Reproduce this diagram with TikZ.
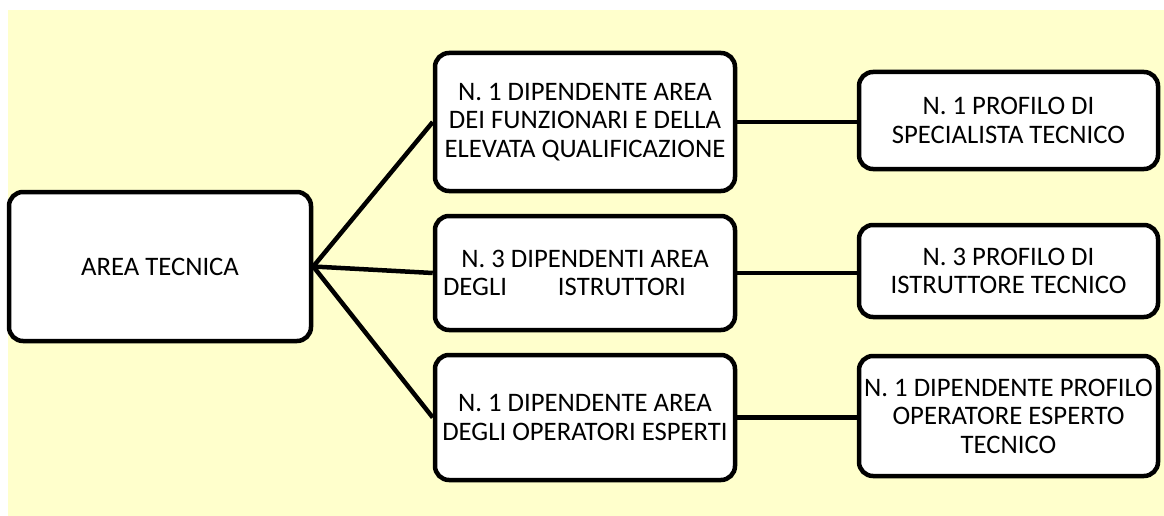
\documentclass[tikz,border=0pt]{standalone}
\usepackage{fontspec}
\setmainfont{Carlito}
\definecolor{sfondo}{RGB}{255,255,204}
\begin{document}
\begin{tikzpicture}[x=1pt, y=-1pt, line width=4.5pt,
    box/.style={draw=black, fill=white, rounded corners=14pt, align=center,
        inner sep=0pt, font=\fontsize{26.7}{28.5}\selectfont}]
                % Background
                \useasboundingbox (0, 0) rectangle (1164, 516);
                \fill[sfondo] (8, 10) rectangle (1164, 516);
                % Nodes
                \node[box, minimum width=302, minimum height=149] (area) at (160, 266.5) {AREA TECNICA};
                \node[box, minimum width=300, minimum height=138] (a1) at (585, 122) {N. 1 DIPENDENTE AREA\\DEI FUNZIONARI E DELLA\\ELEVATA QUALIFICAZIONE};
                \node[box, minimum width=300, minimum height=114] (a2) at (585, 273) {N. 3 DIPENDENTI AREA\\DEGLI\hspace{51pt}ISTRUTTORI\hspace*{41pt}};
                \node[box, minimum width=300, minimum height=125] (a3) at (585, 417.5) {N. 1 DIPENDENTE AREA\\DEGLI OPERATORI ESPERTI};
                \node[box, minimum width=299, minimum height=97] (b1) at (1008.5, 120.5) {N. 1 PROFILO DI\\SPECIALISTA TECNICO};
                \node[box, minimum width=299, minimum height=92] (b2) at (1008.5, 271) {N. 3 PROFILO DI\\ISTRUTTORE TECNICO};
                \node[box, minimum width=299, minimum height=120] (b3) at (1008.5, 416) {N. 1 DIPENDENTE PROFILO\\OPERATORE ESPERTO\\TECNICO};
                % Edges
                \draw[black] (area.east) -- (a1.west);
                \draw[black] (area.east) -- (a2.west);
                \draw[black] (area.east) -- (a3.west);

                \draw[black] (a1.east) -- (b1.west |- a1.east);
                \draw[black] (a2.east) -- (b2.west |- a2.east);
                \draw[black] (a3.east) -- (b3.west |- a3.east);
\end{tikzpicture}
\end{document}
